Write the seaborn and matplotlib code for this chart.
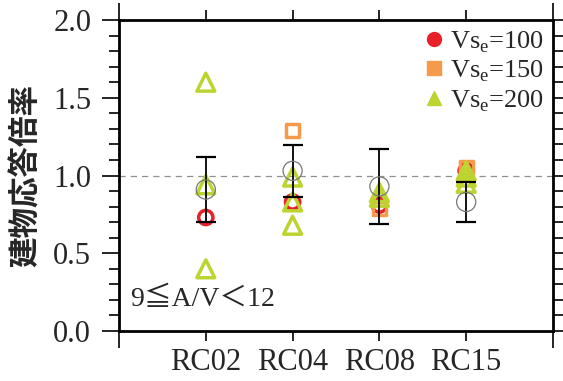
import matplotlib
matplotlib.use("Agg")
import matplotlib.pyplot as plt
from matplotlib.lines import Line2D
from matplotlib.ticker import MultipleLocator, FixedLocator, NullFormatter, FormatStrFormatter
import seaborn as sns
import pandas as pd

# --- data -------------------------------------------------------------
categories = ["RC02", "RC04", "RC08", "RC15"]

vs100_cat = ["RC02", "RC04", "RC08", "RC15"]
vs100_val = [0.73, 0.83, 0.81, 1.03]

vs150_cat = ["RC04", "RC08", "RC15"]
vs150_val = [1.29, 0.79, 1.05]

vs200_cat = ["RC02", "RC02", "RC02", "RC04", "RC04", "RC04",
             "RC08", "RC08", "RC15", "RC15", "RC15"]
vs200_val = [1.60, 0.94, 0.40, 0.99, 0.83, 0.68,
             0.89, 0.86, 1.03, 0.99, 0.95]

mean_val = [0.91, 1.03, 0.93, 0.83]
sd_val = [0.21, 0.165, 0.24, 0.13]

series_labels = ["Vs$_\\mathregular{e}$=100", "Vs$_\\mathregular{e}$=150",
                 "Vs$_\\mathregular{e}$=200"]
series_colors = ["#e8202a", "#f5994a", "#bdd430"]
series_markers = ["o", "s", "^"]
range_label = "9≦A/V＜12"
ylabel = "建物応答倍率"

# --- style ------------------------------------------------------------
sns.set_theme(style="white")
plt.rcParams["font.family"] = ["Liberation Serif", "Noto Sans CJK JP"]
plt.rcParams["mathtext.fontset"] = "custom"
plt.rcParams["mathtext.rm"] = "Liberation Serif"

fig = plt.figure(figsize=(5.63, 3.81), dpi=100)
ax = fig.add_axes([0.2114, 0.1312, 0.7708, 0.8163])

pos = {c: i for i, c in enumerate(categories)}

def frame(cats, vals):
    return pd.DataFrame({"x": [pos[c] for c in cats], "y": vals})

groups = [(vs100_cat, vs100_val), (vs150_cat, vs150_val), (vs200_cat, vs200_val)]
sizes = [105, 85, 165]
for (cats, vals), col, mk, sz in zip(groups, series_colors, series_markers, sizes):
    d = frame(cats, vals)
    sns.scatterplot(data=d, x="x", y="y", marker=mk, s=sz, color=col,
                    linewidth=2.5, ax=ax, zorder=3, legend=False)
    coll = ax.collections[-1]
    coll.set_edgecolor(col)
    coll.set_facecolor("none")

# mean ± sd
mpos = list(range(len(categories)))
ax.errorbar(mpos, mean_val, yerr=sd_val, fmt="none", ecolor="black",
            elinewidth=1.3, capsize=7.5, capthick=1.6, zorder=4)
dm = pd.DataFrame({"x": mpos, "y": mean_val})
sns.scatterplot(data=dm, x="x", y="y", marker="o", s=190, color="#777777",
                linewidth=0.9, ax=ax, zorder=5, legend=False)
coll = ax.collections[-1]
coll.set_edgecolor("#777777")
coll.set_facecolor("none")

ax.axhline(1.0, color="#909090", lw=0.9, ls=(0, (5, 4)), zorder=1)

# axes
ax.set_xlim(-1, 4)
ax.set_ylim(0, 2.0)
ax.xaxis.set_major_locator(FixedLocator([-1, 4]))
ax.xaxis.set_major_formatter(NullFormatter())
ax.xaxis.set_minor_locator(FixedLocator(mpos))
ax.set_xticklabels(categories, minor=True)
ax.yaxis.set_major_locator(MultipleLocator(0.5))
ax.yaxis.set_minor_locator(MultipleLocator(0.1))
ax.yaxis.set_major_formatter(FormatStrFormatter("%.1f"))

ax.tick_params(which="both", direction="out", top=True, right=True,
               bottom=True, left=True, color="black", width=1.2)
ax.tick_params(which="major", length=12)
ax.tick_params(which="minor", length=7)
ax.tick_params(axis="y", which="major", labelsize=22, pad=8)
ax.tick_params(axis="x", which="minor", labelsize=22, pad=5)
for sp in ax.spines.values():
    sp.set_visible(True)
    sp.set_color("black")
    sp.set_linewidth(2.0)

ax.set_xlabel("")
ax.set_ylabel(ylabel, fontsize=22, fontweight="bold",
              family=["Noto Sans CJK JP"], labelpad=8)

ax.text(0.025, 0.1, range_label, transform=ax.transAxes, fontsize=20,
        ha="left", va="center", family=["Liberation Serif", "Noto Sans CJK JP"])

handles = [Line2D([], [], ls="none", marker=m, color=c, markersize=10)
           for m, c in zip(series_markers, series_colors)]
ax.legend(handles, series_labels, loc="upper right", frameon=False,
          fontsize=19, handletextpad=0.1, handlelength=1.0, labelspacing=0.15,
          borderaxespad=0.05, borderpad=0.3)

fig.savefig("out.png", dpi=100)
